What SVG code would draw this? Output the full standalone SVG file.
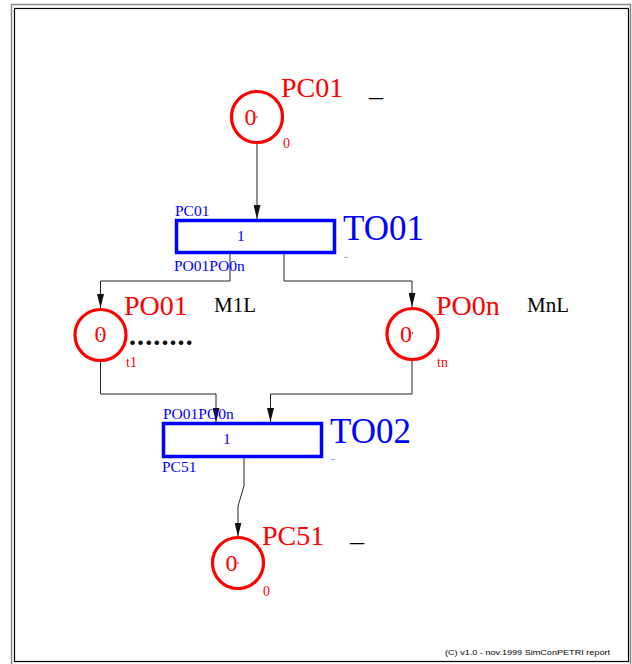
<svg xmlns="http://www.w3.org/2000/svg" width="632" height="664" viewBox="0 0 632 664">
  <defs>
    <marker id="arr" markerWidth="14" markerHeight="7" refX="14" refY="3.5" orient="auto" markerUnits="userSpaceOnUse">
      <path d="M0,0 L14,3.5 L0,7 z" fill="#111"/>
    </marker>
    <style>
      .place { fill: none; stroke: #ff0000; stroke-width: 3.2; }
      .trans { fill: #fff; stroke: #0000ff; stroke-width: 3.5; }
      .dot { fill: #000; }
      .serif { font-family: "Liberation Serif", "Times New Roman", serif; }
      .red { fill: #ff0000; }
      .blue { fill: #0000ff; }
      .blk { fill: #000; }
      .big { font-size: 28px; }
      .tbig { font-size: 35px; }
      .mark { font-size: 24px; }
      .small { font-size: 14px; }
      .lbl { font-size: 15.5px; }
      .tick { font-size: 8px; }
      .conn { fill: none; stroke: #222; stroke-width: 1; }
    </style>
  </defs>

  <rect width="632" height="664" fill="#fff"/>
  <!-- page frame -->
  <rect x="11.5" y="4.5" width="619" height="665" fill="none" stroke="#888" stroke-width="1.5"/>
  <rect x="14.5" y="8.5" width="614" height="653" fill="none" stroke="#000" stroke-width="1.2"/>

  <!-- arcs -->
  <g id="connectors">
    <path class="conn" d="M257,143 V219" marker-end="url(#arr)"/>
    <path class="conn" d="M230,254 V281 H100.5 V308" marker-end="url(#arr)"/>
    <path class="conn" d="M284,254 V281 H412 V307" marker-end="url(#arr)"/>
    <path class="conn" d="M100.5,362 V394 H216 V422" marker-end="url(#arr)"/>
    <path class="conn" d="M412,361 V394 H270.5 V422" marker-end="url(#arr)"/>
    <path class="conn" d="M244,458 V486 L238,506 V536.5" marker-end="url(#arr)"/>
  </g>

  <!-- place PC01 -->
  <g id="PC01">
    <circle class="place" cx="257" cy="117" r="25.5"/>
    <circle class="dot" cx="257" cy="117" r="0.7"/>
    <text class="serif red mark" x="256.5" y="125" text-anchor="end">0</text>
    <text class="serif red big" x="281" y="97">PC01</text>
    <text class="serif blk big" x="369" y="96">_</text>
    <text class="serif red small" x="283" y="148">0</text>
  </g>

  <!-- transition TO01 -->
  <g id="TO01">
    <rect class="trans" x="176.5" y="220.5" width="158" height="32"/>
    <text class="serif blue lbl" x="237" y="241">1</text>
    <text class="serif blue lbl" x="175" y="216">PC01</text>
    <text class="serif blue lbl" x="174" y="271">PO01PO0n</text>
    <text class="serif blue tbig" x="343" y="240">TO01</text>
    <text class="serif blue tick" x="344" y="256.5">_</text>
  </g>

  <!-- place PO01 -->
  <g id="PO01">
    <circle class="place" cx="100.5" cy="335" r="25.5"/>
    <circle class="dot" cx="100.5" cy="334.5" r="0.7"/>
    <text class="serif red mark" x="100.5" y="342" text-anchor="middle">0</text>
    <text class="serif red big" x="124" y="315">PO01</text>
    <text class="serif blk" font-size="21" x="214" y="312">M1L</text>
    <text class="serif red small" x="126" y="367">t1</text>
    <text class="serif blk" font-weight="bold" font-size="28" letter-spacing="1.1" x="129" y="345">........</text>
  </g>

  <!-- place PO0n -->
  <g id="PO0n">
    <circle class="place" cx="412.5" cy="334" r="25.5"/>
    <circle class="dot" cx="412.5" cy="333" r="0.7"/>
    <text class="serif red mark" x="412" y="342" text-anchor="end">0</text>
    <text class="serif red big" x="436" y="315">PO0n</text>
    <text class="serif blk" font-size="21" x="527" y="312">MnL</text>
    <text class="serif red small" x="437" y="367">tn</text>
  </g>

  <!-- transition TO02 -->
  <g id="TO02">
    <rect class="trans" x="163.5" y="423.5" width="158" height="33"/>
    <text class="serif blue lbl" x="223" y="444">1</text>
    <text class="serif blue lbl" x="163" y="419">PO01PO0n</text>
    <text class="serif blue lbl" x="162" y="472">PC51</text>
    <text class="serif blue tbig" x="330" y="443">TO02</text>
    <text class="serif blue tick" x="331" y="459">_</text>
  </g>

  <!-- place PC51 -->
  <g id="PC51">
    <circle class="place" cx="238" cy="563" r="25.5"/>
    <circle class="dot" cx="238" cy="563" r="0.7"/>
    <text class="serif red mark" x="237.5" y="571" text-anchor="end">0</text>
    <text class="serif red big" x="262" y="545">PC51</text>
    <text class="serif blk big" x="350" y="541">_</text>
    <text class="serif red small" x="263" y="596">0</text>
  </g>

  <!-- footer -->
  <text font-family="Liberation Sans, Arial, sans-serif" font-size="8" class="blk" x="445" y="655" textLength="165" lengthAdjust="spacingAndGlyphs">(C) v1.0  -  nov.1999  SimConPETRI  report</text>
</svg>
